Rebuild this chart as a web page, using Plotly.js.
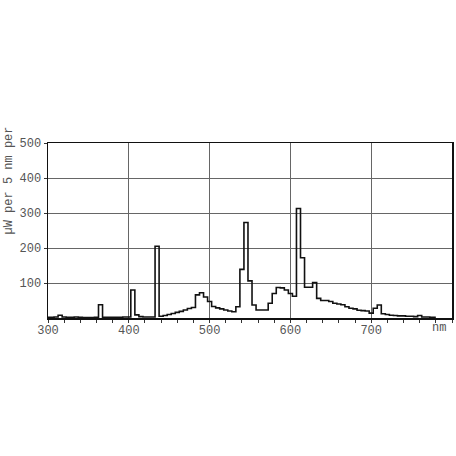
<!DOCTYPE html>
<html>
<head>
<meta charset="utf-8">
<script src="https://cdn.plot.ly/plotly-3.0.1.min.js"></script>
<style>html,body{margin:0;padding:0;background:#fff;}#chart{width:456px;height:456px;}</style>
</head>
<body>
<div id="chart"></div>
<script>
// Bin centre wavelengths (nm), 5 nm bins
const wavelength = [];
for (let w = 300; w <= 780; w += 5) wavelength.push(w);

// Spectral power (µW per 5 nm)
const power = [
  2, 2, 3, 8, 3, 2, 2, 3, 2, 1,        // 300-345
  1, 1, 2, 38, 2, 2, 2, 2, 2, 3,       // 350-395
  3, 80, 9, 4, 3, 3, 3, 205, 5, 7,     // 400-445
  10, 13, 16, 19, 23, 27, 30, 66, 72, 60, // 450-495
  47, 33, 29, 26, 23, 20, 18, 32, 139, 273, // 500-545
  106, 37, 23, 23, 23, 42, 70, 87, 86, 80,  // 550-595
  70, 62, 313, 172, 88, 88, 101, 56, 50, 50, // 600-645
  47, 42, 40, 38, 32, 28, 26, 22, 21, 20,   // 650-695
  14, 28, 37, 12, 10, 8, 7, 6, 6, 5,        // 700-745
  5, 4, 7, 3, 3, 2, 2                       // 750-780
];

const xTickVals = [300, 400, 500, 600, 700];
const xTickText = ['300', '400', '500', '600', '700'];
const yTickVals = [100, 200, 300, 400, 500];
const yTickText = ['100', '200', '300', '400', '500'];
const yTitle = 'µW per 5 nm per';
const xUnit = 'nm';

const monoFont = {family: 'Liberation Mono, DejaVu Sans Mono, monospace', size: 12, color: '#555'};

const trace = {
  x: wavelength,
  y: power,
  type: 'scatter',
  mode: 'lines',
  line: {shape: 'hvh', color: '#111', width: 1.6},
  hoverinfo: 'skip'
};

const layout = {
  width: 456, height: 456,
  margin: {l: 48, r: 4, t: 143, b: 138},
  paper_bgcolor: '#fff', plot_bgcolor: '#fff',
  showlegend: false,
  font: monoFont,
  xaxis: {
    range: [300, 800],
    tickmode: 'array', tickvals: xTickVals, ticktext: xTickText,
    ticks: 'outside', ticklen: 3, tickcolor: '#333', tickwidth: 1,
    ticklabelstandoff: -3,
    minor: {dtick: 20, tick0: 300, ticks: 'outside', ticklen: 3, tickcolor: '#333', showgrid: false},
    showgrid: true, gridcolor: '#666', gridwidth: 1,
    showline: true, linecolor: '#111', linewidth: 1.5, mirror: true,
    zeroline: false, tickfont: monoFont, fixedrange: true
  },
  yaxis: {
    range: [0, 500],
    tickmode: 'array', tickvals: yTickVals, ticktext: yTickText,
    ticks: 'outside', ticklen: 3, tickcolor: '#333',
    showgrid: true, gridcolor: '#666', gridwidth: 1,
    showline: true, linecolor: '#111', linewidth: 1.5, mirror: true,
    zeroline: false, tickfont: monoFont, fixedrange: true
  },
  annotations: [
    {text: xUnit, xref: 'paper', yref: 'paper', x: 0.99, y: 0, yshift: -10,
     xanchor: 'right', yanchor: 'middle', showarrow: false, font: monoFont},
    {text: yTitle, xref: 'paper', yref: 'paper', x: 0, xshift: -40, y: 0.5, yshift: 50,
     textangle: -90, xanchor: 'center', yanchor: 'middle', showarrow: false, font: monoFont}
  ]
};

Plotly.newPlot('chart', [trace], layout, {staticPlot: true, displayModeBar: false});
</script>
</body>
</html>
